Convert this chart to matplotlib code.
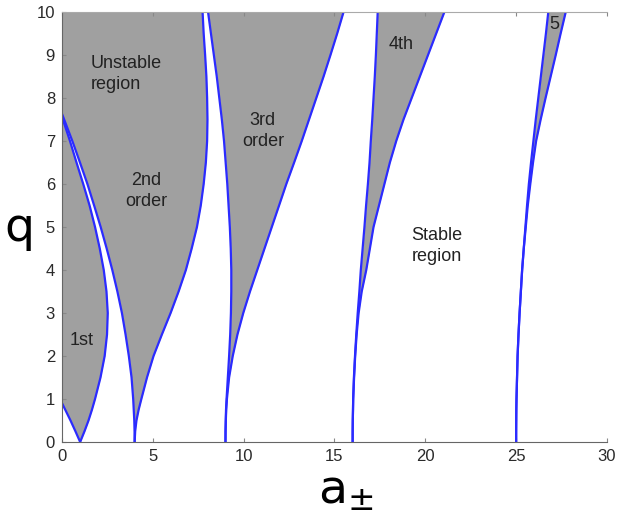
import numpy as np
import matplotlib.pyplot as plt

plt.rcParams['font.family'] = ['Liberation Sans', 'DejaVu Sans']
plt.rcParams['mathtext.fontset'] = 'dejavusans'

# q levels shared by every characteristic curve
q = [0, 0.25, 0.5, 0.75, 1, 1.5, 2, 2.5, 3, 3.5, 4, 4.5, 5, 5.5, 6, 6.5,
     7, 7.5, 8, 8.5, 9, 9.5, 10]

# boundary curves a(q): b_n is the lower edge, a_n the upper edge of each tongue
b1 = [1.0, 0.74, 0.47, 0.18, -0.11, -0.72, -1.39, -2.1, -2.8, -3.5, -4.3, -5.0,
      -5.8, -6.6, -7.4, -8.2, -9.0, -9.8, -10.6, -11.4, -12.2, -13.1, -13.9]
a1 = [1.0, 1.24, 1.46, 1.65, 1.82, 2.12, 2.35, 2.48, 2.52, 2.45, 2.30, 2.08,
      1.82, 1.52, 1.17, 0.80, 0.44, 0.05, -0.35, -0.75, -1.2, -1.8, -2.4]
b2 = [4.0, 3.995, 3.98, 3.95, 3.92, 3.83, 3.68, 3.50, 3.30, 3.05, 2.77, 2.46,
      2.13, 1.77, 1.40, 0.99, 0.57, 0.12, -0.33, -0.74, -1.2, -1.8, -2.38]
a2 = [4.0, 4.03, 4.10, 4.22, 4.37, 4.68, 5.04, 5.50, 5.98, 6.42, 6.82, 7.14,
      7.43, 7.64, 7.80, 7.92, 7.99, 8.01, 7.99, 7.95, 7.88, 7.80, 7.74]
b3 = [9.0, 9.004, 9.015, 9.03, 9.06, 9.13, 9.20, 9.26, 9.30, 9.32, 9.32, 9.29,
      9.24, 9.17, 9.10, 9.01, 8.92, 8.80, 8.66, 8.52, 8.36, 8.20, 8.04]
a3 = [9.0, 9.004, 9.02, 9.04, 9.08, 9.2, 9.40, 9.66, 9.98, 10.35, 10.75, 11.15,
      11.55, 11.95, 12.35, 12.78, 13.2, 13.6, 14.0, 14.4, 14.78, 15.15, 15.5]
b4 = [16.0, 16.002, 16.008, 16.02, 16.03, 16.07, 16.13, 16.2, 16.28, 16.37,
      16.45, 16.55, 16.65, 16.74, 16.84, 16.93, 17.0, 17.08, 17.15, 17.22,
      17.28, 17.33, 17.38]
a4 = [16.0, 16.002, 16.008, 16.02, 16.03, 16.08, 16.14, 16.22, 16.33, 16.5,
      16.75, 16.95, 17.15, 17.45, 17.75, 18.05, 18.4, 18.8, 19.25, 19.7, 20.15,
      20.6, 21.05]
b5 = [25.0, 25.001, 25.005, 25.01, 25.02, 25.05, 25.08, 25.13, 25.19, 25.26,
      25.33, 25.42, 25.51, 25.6, 25.7, 25.82, 25.95, 26.08, 26.22, 26.36, 26.5,
      26.64, 26.77]
a5 = [25.0, 25.001, 25.005, 25.01, 25.02, 25.05, 25.08, 25.13, 25.19, 25.26,
      25.33, 25.42, 25.53, 25.64, 25.78, 25.93, 26.1, 26.35, 26.62, 26.9, 27.18,
      27.45, 27.73]

lower = [b1, b2, b3, b4, b5]
upper = [a1, a2, a3, a4, a5]

fig = plt.figure(figsize=(6.21, 5.31), dpi=100)
ax = fig.add_axes([0.0998, 0.1676, 0.8776, 0.8098])

for lo, hi in zip(lower, upper):
    ax.fill_betweenx(q, lo, hi, color='#a0a0a0', lw=0)
for curve in lower + upper:
    ax.plot(curve, q, color='#2b2bff', lw=1.6, solid_capstyle='round')

ax.set_xlim(0, 30)
ax.set_ylim(0, 10)
ax.set_xticks(range(0, 31, 5))
ax.set_yticks(range(0, 11))
ax.tick_params(direction='in', length=3, labelsize=12, labelcolor='#2a2a2a',
               color='#888888', pad=5, top=True)
for side in ['left', 'bottom']:
    ax.spines[side].set_color('#666666')
ax.spines['top'].set_color('#aaaaaa')
ax.spines['right'].set_visible(False)

lab = dict(fontsize=13, color='#222222')
ax.text(1.6, 8.55, 'Unstable\nregion', ha='left', va='center', linespacing=1.3, **lab)
ax.text(4.65, 5.83, '2nd\norder', ha='center', va='center', linespacing=1.3, **lab)
ax.text(1.1, 2.37, '1st', ha='center', va='center', **lab)
ax.text(11.06, 7.23, '3rd\norder', ha='center', va='center', linespacing=1.3, **lab)
ax.text(18.68, 9.24, '4th', ha='center', va='center', **lab)
ax.text(27.1, 9.7, '5', ha='center', va='center', **lab)
ax.text(19.23, 4.55, 'Stable\nregion', ha='left', va='center', linespacing=1.3, **lab)

fig.text(0.032, 0.57, 'q', fontsize=34, family='DejaVu Sans', ha='center', va='center')
fig.text(0.557, 0.075, r'$\mathregular{a_{\pm}}$', fontsize=34,
         family='DejaVu Sans', ha='center', va='center')

fig.savefig('out.png', dpi=100)
